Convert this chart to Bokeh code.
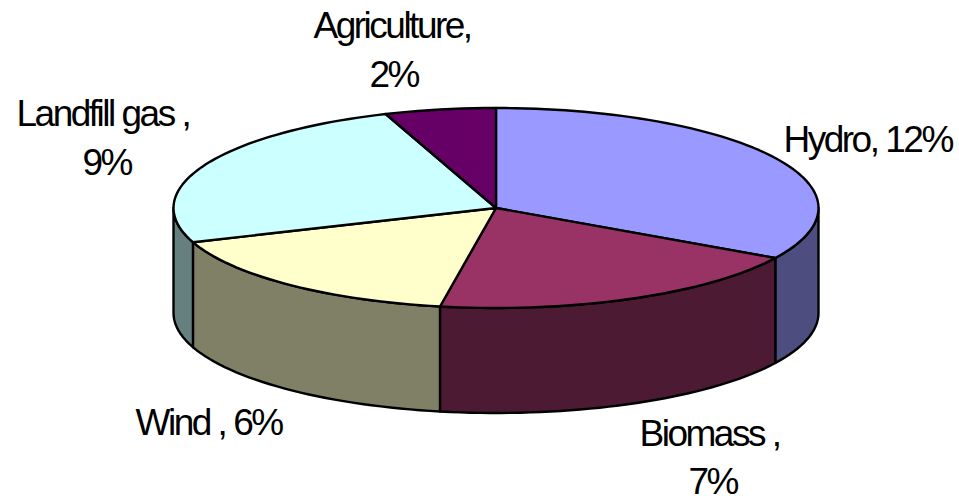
import numpy as np
from bokeh.plotting import figure
from bokeh.models import Range1d
from bokeh.core.properties import value
from bokeh.embed import file_html
from bokeh.resources import INLINE

# data
categories = ["Hydro", "Biomass", "Wind", "Landfill gas", "Agriculture"]
shares = [12, 7, 6, 9, 2]
label_texts = ["Hydro, 12%", "Biomass ,", "7%", "Wind , 6%", "Landfill gas ,", "9%", "Agriculture,", "2%"]
top_colors = ["#9999FF", "#993366", "#FFFFCC", "#CCFFFF", "#660066"]
side_colors = ["#4D4D80", "#4D1A33", "#808066", "#668080", "#330033"]

# layout
CX, CY, RX, RY, DEPTH = 495.5, 207.5, 322.5, 100.0, 105.0
label_x = [783, 639, 688, 135, 16, 82, 313, 369]
label_y = [139, 433, 481, 422, 113, 162, 25, 74]

p = figure(width=959, height=496, output_backend="svg", toolbar_location=None,
           x_range=Range1d(0, 959), y_range=Range1d(496, 0), min_border=0,
           background_fill_color="white", border_fill_color="white",
           outline_line_color=None)
p.axis.visible = False
p.grid.visible = False
p.styles = {"letter-spacing": "-2.5px"}

edges = np.cumsum([0] + shares) / sum(shares) * 2 * np.pi

def ex(t):
    return CX + RX * np.sin(t)

def ey(t):
    return CY - RY * np.cos(t)

# walls: only the front half of the rim is visible
sx, sy, sc = [], [], []
for a, b, c in zip(edges[:-1], edges[1:], side_colors):
    lo, hi = max(a, np.pi / 2), min(b, 3 * np.pi / 2)
    if hi <= lo:
        continue
    t = np.linspace(lo, hi, max(int((hi - lo) / 0.03), 2))
    sx.append(np.concatenate([ex(t), ex(t[::-1])]).tolist())
    sy.append(np.concatenate([ey(t), ey(t[::-1]) + DEPTH]).tolist())
    sc.append(c)
p.patches(sx, sy, fill_color=sc, line_color="black", line_width=2.4, line_join="round")

# top slices
tx, ty = [], []
for a, b in zip(edges[:-1], edges[1:]):
    t = np.linspace(a, b, max(int((b - a) / 0.03), 2))
    tx.append([CX] + ex(t).tolist())
    ty.append([CY] + ey(t).tolist())
p.patches(tx, ty, fill_color=top_colors, line_color="black", line_width=2.4, line_join="round")

p.text(label_x, label_y, text=label_texts, text_font=value("Liberation Sans"),
       text_font_size="37px", text_color="black", text_align="left",
       text_baseline="alphabetic")

open("out.html", "w").write(file_html(p, INLINE))
